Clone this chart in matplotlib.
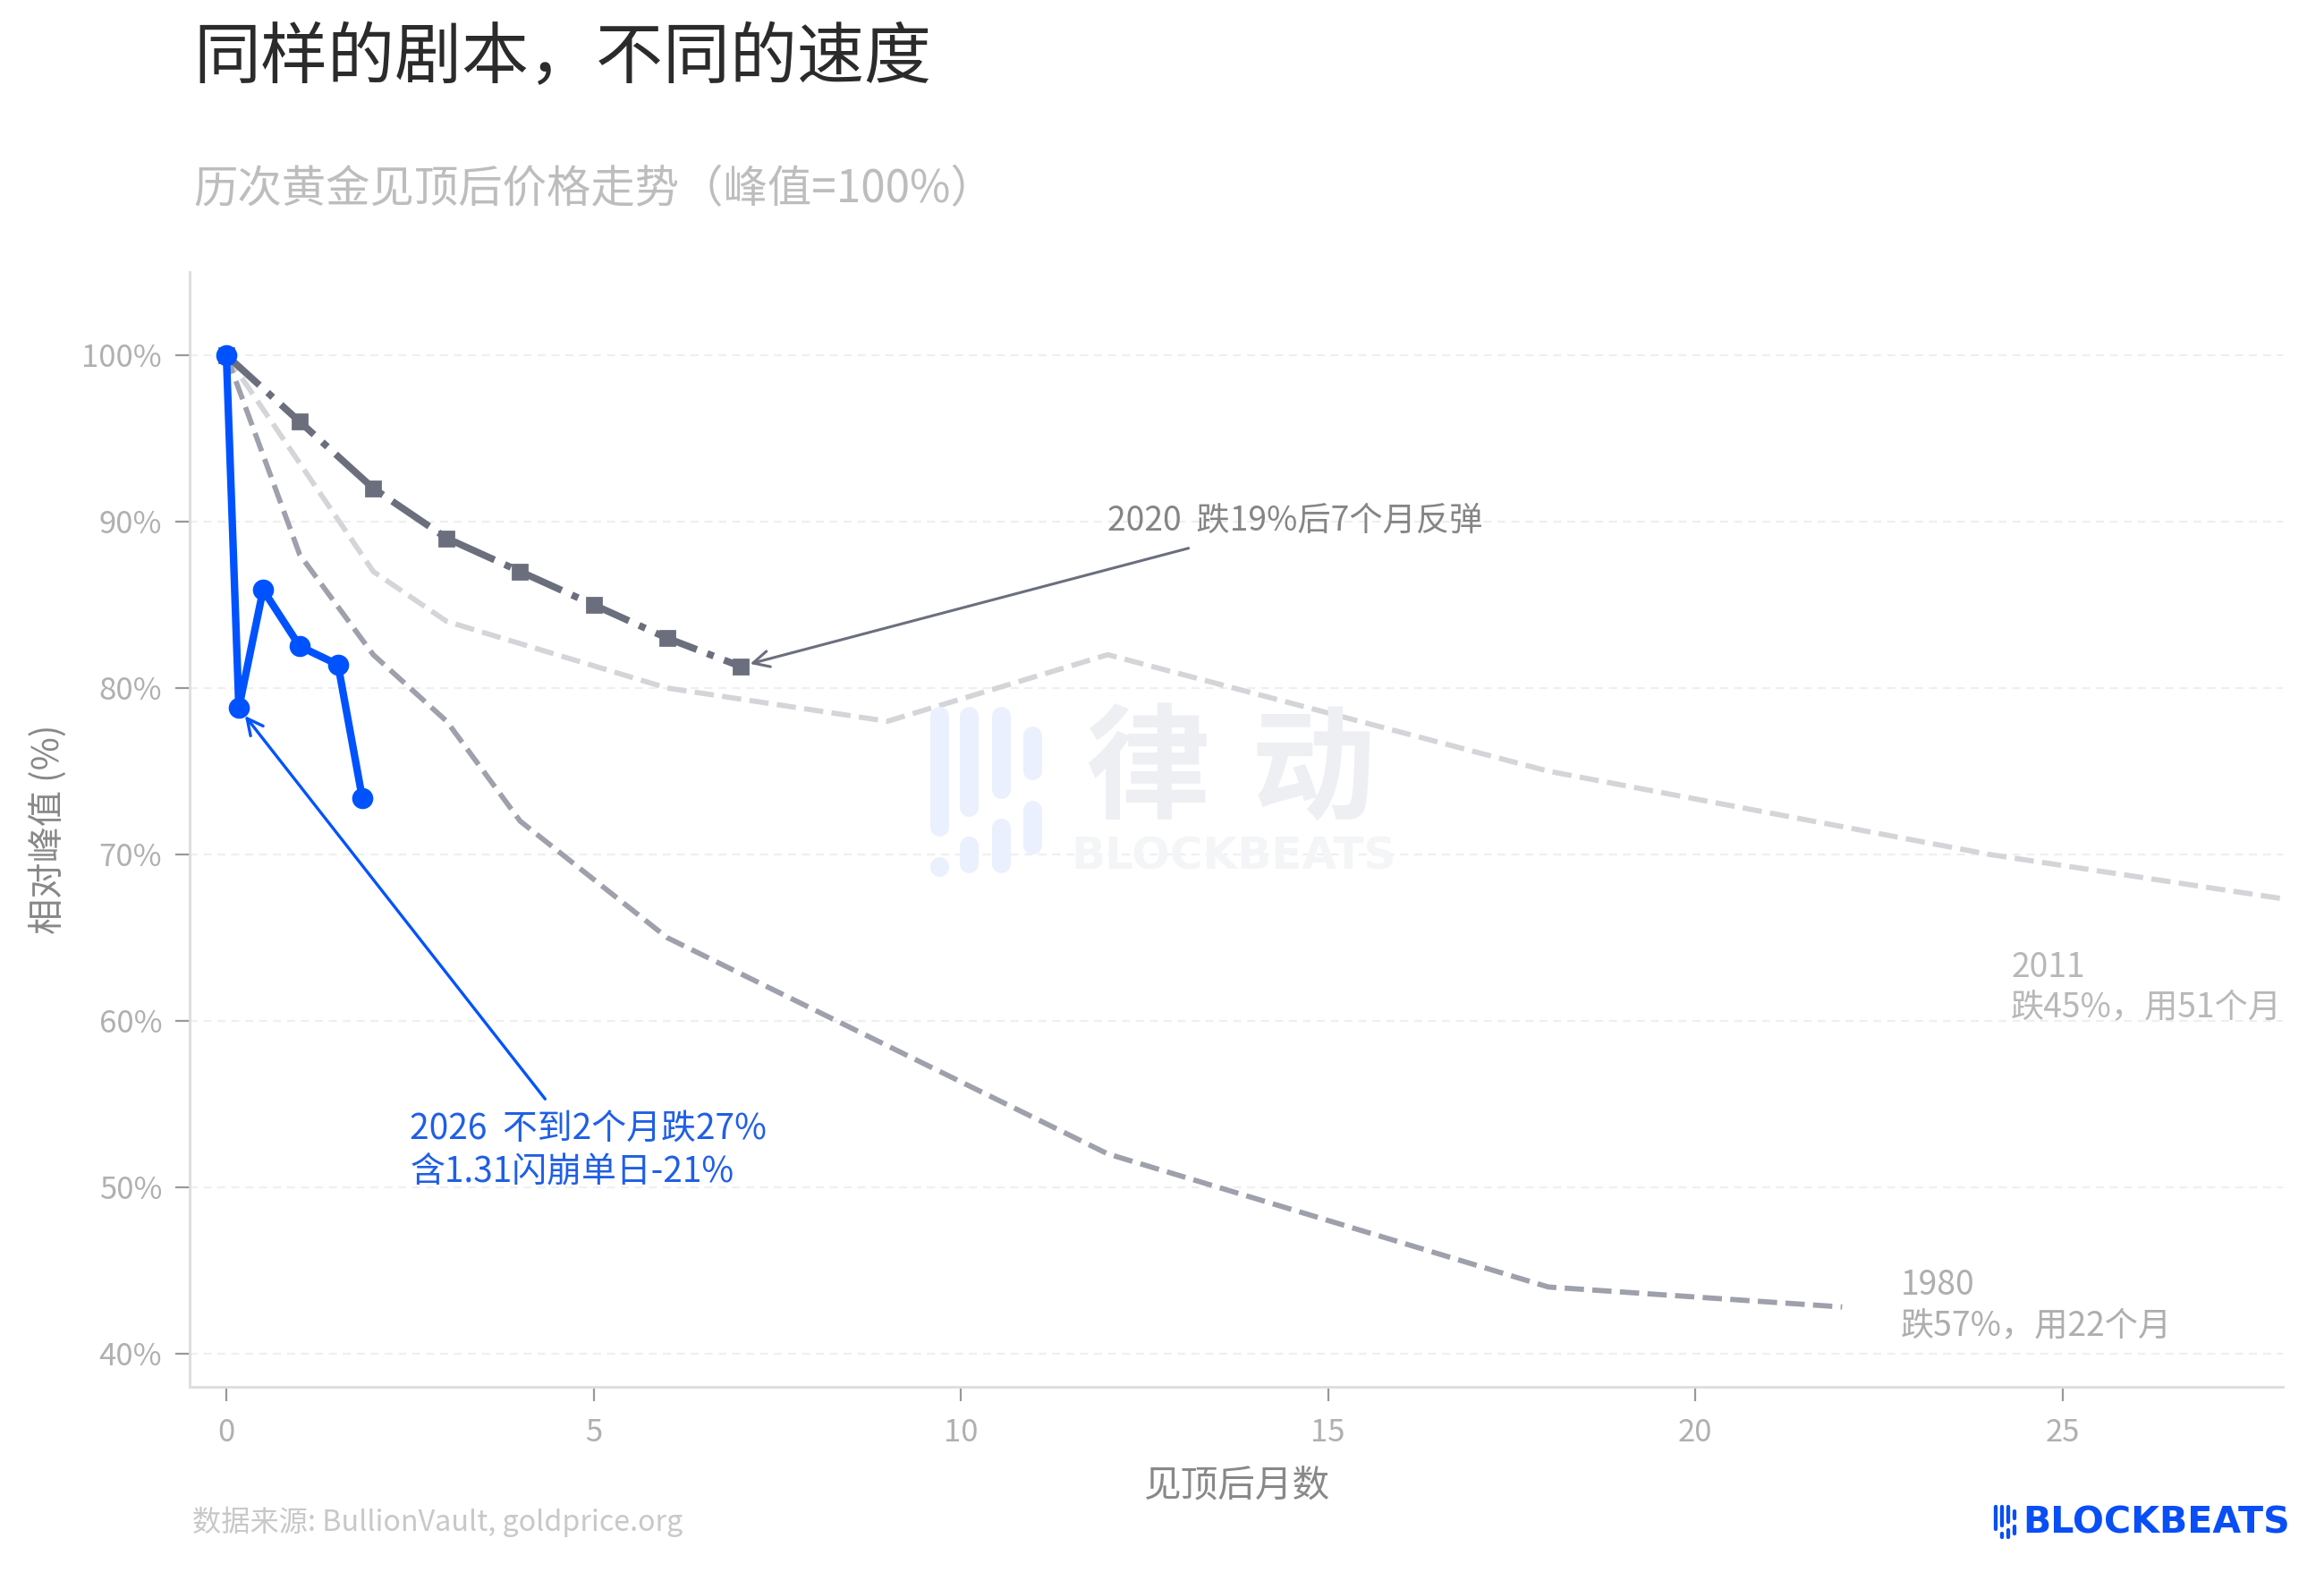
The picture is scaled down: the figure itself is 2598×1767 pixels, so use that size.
import matplotlib
matplotlib.use("Agg")
import matplotlib.pyplot as plt
from matplotlib.lines import Line2D
from matplotlib.ticker import FuncFormatter

# ---- data: price relative to peak (%) vs. months after the peak ----
months_2026 = [0, 0.17, 0.5, 1.0, 1.52, 1.85]
pct_2026 = [100, 78.8, 85.9, 82.5, 81.4, 73.4]

months_2020 = [0, 1, 2, 3, 4, 5, 6, 7]
pct_2020 = [100, 96, 92, 89, 87, 85, 83, 81.3]

months_2011 = [0, 2, 3, 6, 9, 12, 18, 24, 30, 36, 42, 51]
pct_2011 = [100, 87, 84, 80, 78, 82, 75, 70, 66, 62, 58, 55]

months_1980 = [0, 1, 2, 3, 4, 6, 12, 18, 22]
pct_1980 = [100, 88, 82, 78, 72, 65, 52, 44, 42.8]

y_ticks = [40, 50, 60, 70, 80, 90, 100]
x_ticks = [0, 5, 10, 15, 20, 25]

TITLE = "同样的剧本，不同的速度"
SUBTITLE = "历次黄金见顶后价格走势（峰值=100%）"
X_LABEL = "见顶后月数"
Y_LABEL = "相对峰值 (%)"
SOURCE = "数据来源: BullionVault, goldprice.org"

plt.rcParams["font.family"] = ["Noto Sans CJK SC", "DejaVu Sans"]

W, H, DPI = 2598, 1767, 200
fig = plt.figure(figsize=(W / DPI, H / DPI), dpi=DPI)
fig.patch.set_facecolor("white")


def fx(px):
    return px / W


def fy(py):
    return 1 - py / H


ax = fig.add_axes([fx(212), fy(1550), fx(2552) - fx(212), fy(304) - fy(1550)])
ax.set_xlim(-0.5, 28)
ax.set_ylim(38, 105)

BLUE = "#0052FF"

# ---- brand icon: four columns of rounded bars (icon units) ----
ICON = [
    (11, [(0, 145), (168, 185)]),
    (44, [(0, 123), (145, 186)]),
    (80, [(0, 103), (125, 186)]),
    (115, [(22, 82), (105, 165)]),
]


def draw_icon(x0, y0, scale, color, width_px, z):
    lw_pt = width_px * 72 / DPI
    half = width_px / 2
    for cx, segs in ICON:
        for a, b in segs:
            top = y0 + a * scale + half
            bot = max(y0 + b * scale - half, top + 0.01)
            fig.add_artist(Line2D([fx(x0 + cx * scale)] * 2, [fy(top), fy(bot)],
                                  transform=fig.transFigure, color=color,
                                  lw=lw_pt, solid_capstyle="round", zorder=z))


# faint watermark behind the data
draw_icon(1039, 790, 1.0, "#EAF0FD", 21, 0.5)
fig.text(fx(1283), fy(864), "律", fontsize=50, fontweight="bold",
         color="#EDEFF2", ha="center", va="center", zorder=0.5)
fig.text(fx(1468), fy(864), "动", fontsize=50, fontweight="bold",
         color="#EDEFF2", ha="center", va="center", zorder=0.5)
fig.text(fx(1379), fy(957), "BLOCKBEATS", fontsize=18, fontweight="bold",
         family="DejaVu Sans", color="#F4F5F7", ha="center", va="center", zorder=0.5)

# ---- series ----
ax.plot(months_2011, pct_2011, ls="--", color="#D4D5D8", lw=2.1, zorder=2)
ax.plot(months_1980, pct_1980, ls="--", color="#9EA1AB", lw=2.1, zorder=2)
ax.plot(months_2020, pct_2020, ls="-.", color="#6B6F7D", lw=2.8,
        marker="s", markersize=6, zorder=3)
ax.plot(months_2026, pct_2026, ls="-", color=BLUE, lw=3.0,
        marker="o", markersize=7.5, zorder=4)

# ---- annotations ----
ax.text(12.0, 90.05, "2020  跌19%后7个月反弹", fontsize=13.4, color="#858585",
        ha="left", va="center")
ax.annotate("", xy=(months_2020[-1], pct_2020[-1]), xytext=(13.1, 88.4),
            arrowprops=dict(arrowstyle="->", color="#6B6F7D", lw=1.1,
                            mutation_scale=16, shrinkA=0, shrinkB=4))

ax.text(2.5, 52.2, "2026  不到2个月跌27%\n含1.31闪崩单日-21%", fontsize=14,
        color="#1F5FE6", ha="left", va="center", linespacing=1.2)
ax.annotate("", xy=(months_2026[1], pct_2026[1]), xytext=(4.34, 55.3),
            arrowprops=dict(arrowstyle="->", color=BLUE, lw=1.2,
                            mutation_scale=16, shrinkA=0, shrinkB=4))

ax.text(24.3, 62.0, "2011\n跌45%，用51个月", fontsize=13.4, color="#B8B8B8",
        ha="left", va="center", linespacing=1.2)
ax.text(22.8, 42.9, "1980\n跌57%，用22个月", fontsize=13.4, color="#AEAEAE",
        ha="left", va="center", linespacing=1.2)

# ---- axes styling ----
for side in ("top", "right"):
    ax.spines[side].set_visible(False)
for side in ("left", "bottom"):
    ax.spines[side].set_color("#DDDDDD")
    ax.spines[side].set_linewidth(1.0)

ax.set_yticks(y_ticks)
ax.set_xticks(x_ticks)
ax.yaxis.set_major_formatter(FuncFormatter(lambda v, _: f"{v:.0f}%"))
ax.tick_params(axis="both", colors="#999999", labelcolor="#B0B0B0",
               labelsize=12.5, length=5.6, width=0.8, pad=5.5)
ax.tick_params(axis="x", pad=6.5)

ax.grid(axis="y", ls=(0, (4, 3)), color="#EFEFEF", lw=0.8, zorder=0)
ax.set_axisbelow(True)

ax.set_xlabel(X_LABEL, fontsize=15, color="#888888", labelpad=8)
ax.set_ylabel(Y_LABEL, fontsize=14.5, color="#888888", labelpad=6)

# ---- titles, source and brand mark ----
fig.text(fx(216), fy(66), TITLE, fontsize=27, color="#2B2B2B",
         ha="left", va="center")
fig.text(fx(216), fy(212), SUBTITLE, fontsize=17.8, color="#BDBDBD",
         ha="left", va="center")
fig.text(fx(215), fy(1701), SOURCE, fontsize=11.6, color="#C8C8C8",
         ha="left", va="center")

draw_icon(2229, 1682, 38 / 186, "#0A4EF5", 4.3, 5)
fig.text(fx(2261), fy(1702), "BLOCKBEATS", fontsize=14.8, fontweight="bold",
         family="DejaVu Sans", color="#0A4EF5", ha="left", va="center")

fig.savefig("out.png", dpi=DPI, facecolor="white")
